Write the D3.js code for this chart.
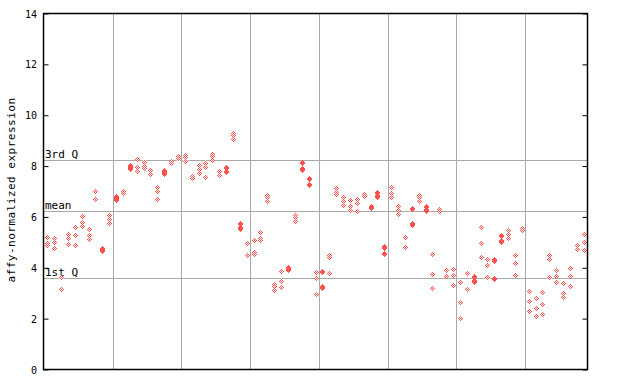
<!DOCTYPE html>
<html>
<head>
<meta charset="utf-8">
<script src="https://cdn.jsdelivr.net/npm/d3@7"></script>
<style>
  body { margin: 0; background: #fff; }
  text { font-family: "DejaVu Sans Mono", monospace; }
</style>
</head>
<body>
<svg id="chart"></svg>
<script>
(function(){
    "use strict";

    var width = 640,
        height = 384;

    // expression values per sample (replicates)
    var samples = [
        [5.19, 4.96, 4.88], [5.19, 4.96, 4.72], [3.61, 3.14], [5.27, 5.19, 4.88],
        [5.59, 5.27, 4.88], [5.98, 5.82, 5.64], [5.48, 5.27, 5.11], [7.02, 6.71, 6.65],
        [4.72, 4.66], [6.03, 5.90, 5.77],
        [6.77, 6.71, 6.65], [7.0, 6.93], [8.02, 7.91, 7.89], [8.27, 7.95, 7.78],
        [8.15, 8.02, 7.91], [7.82, 7.69], [7.12, 7.03, 6.66], [7.82, 7.74, 7.69],
        [8.17, 8.11, 8.08], [8.40, 8.28],
        [8.45, 8.35, 8.2], [7.62, 7.52], [8.03, 7.9, 7.72], [8.11, 7.94, 7.56],
        [8.42, 8.35, 8.21], [7.79, 7.65, 7.61], [7.94, 7.91, 7.77], [9.29, 9.19, 9.06],
        [5.74, 5.57, 5.54], [4.96, 4.52],
        [5.11, 4.63, 4.56], [5.35, 5.19, 5.06], [6.86, 6.73, 6.59], [3.38, 3.25, 3.12],
        [3.85, 3.50, 3.22], [3.99, 3.93, 3.90], [6.07, 5.97, 5.84], [8.14, 7.89, 7.86],
        [7.5, 7.27, 7.24], [3.85, 3.57, 2.96],
        [3.85, 3.25, 3.22], [4.52, 4.43, 3.81], [7.08, 6.99, 6.89], [6.79, 6.6, 6.44],
        [6.62, 6.40, 6.23], [6.66, 6.53, 6.23], [6.89, 6.77], [6.40, 6.37],
        [6.93, 6.82, 6.79], [4.82, 4.79, 4.56],
        [7.12, 6.95, 6.75], [6.43, 6.27, 6.10], [5.18, 4.81], [6.30, 5.73, 5.70],
        [6.83, 6.73, 6.62], [6.40, 6.27, 6.24], [4.56, 3.73, 3.18], [6.31, 6.23],
        [3.92, 3.68], [3.92, 3.73, 3.30],
        [3.42, 2.67, 2.04], [3.80, 3.75, 3.14], [3.64, 3.48, 3.45], [5.59, 4.96, 4.37],
        [4.30, 4.07, 3.61], [4.31, 4.28, 3.57], [5.24, 5.06, 5.03], [5.45, 5.32, 5.14],
        [4.48, 4.13, 3.73], [5.55, 5.48],
        [3.08, 2.71, 2.31], [2.79, 2.43, 2.08], [3.02, 2.59, 2.13], [4.46, 4.30, 3.59],
        [3.89, 3.67, 3.46], [3.42, 2.96, 2.85], [4.01, 3.69, 3.30], [4.88, 4.72],
        [5.27, 4.96, 4.68]
    ];
    // samples whose marks overlap into a solid red blob
    var solid = [8, 10, 12, 17, 26, 28, 35, 37, 38, 40, 47, 48, 49, 53, 55, 62, 65, 66];

    var groupSize = 10;
    var yTicks = [0, 2, 4, 6, 8, 10, 12, 14];
    var refLines = [
        {label: "3rd Q", value: 8.24},
        {label: "mean", value: 6.23},
        {label: "1st Q", value: 3.61}
    ];

    var svg = d3.select("svg#chart")
        .attr("width", width)
        .attr("height", height);

    // 1px checkerboard used by the light markers
    var pat = svg.append("defs").append("pattern")
        .attr("id", "chk")
        .attr("width", 2).attr("height", 2)
        .attr("patternUnits", "userSpaceOnUse");
    pat.append("rect").attr("width", 2).attr("height", 2).attr("fill", "#fff");
    pat.append("rect").attr("width", 1).attr("height", 1).attr("fill", "#ff5050");
    pat.append("rect").attr("x", 1).attr("y", 1).attr("width", 1).attr("height", 1).attr("fill", "#ff5050");

    var x = d3.scaleLinear()
        .domain([-0.55, samples.length - 0.45])
        .range([43.5, 587.5]);

    var y = d3.scaleLinear()
        .domain([0, 14])
        .range([369.5, 13.5]);

    var g = svg.append("g");

    // vertical separators between sample groups
    var bounds = d3.range(groupSize - 0.5, samples.length - 1, groupSize);
    g.selectAll("line.sep")
        .data(bounds)
        .enter().append("line")
        .attr("class", "sep")
        .attr("x1", function(d) { return Math.round(x(d)) + 0.5; })
        .attr("x2", function(d) { return Math.round(x(d)) + 0.5; })
        .attr("y1", y(14))
        .attr("y2", y(0))
        .attr("stroke", "#a8a8a8")
        .attr("stroke-width", 1);

    // quartile / mean lines
    g.selectAll("line.ref")
        .data(refLines)
        .enter().append("line")
        .attr("class", "ref")
        .attr("x1", x.range()[0])
        .attr("x2", x.range()[1])
        .attr("y1", function(d) { return Math.round(y(d.value)) + 0.5; })
        .attr("y2", function(d) { return Math.round(y(d.value)) + 0.5; })
        .attr("stroke", "#a8a8a8")
        .attr("stroke-width", 1);

    g.selectAll("text.ref")
        .data(refLines)
        .enter().append("text")
        .attr("class", "ref")
        .attr("x", 45)
        .attr("y", function(d) { return Math.round(y(d.value)) - 2; })
        .attr("font-size", 11)
        .attr("fill", "#000")
        .text(function(d) { return d.label; });

    // points
    var pts = [];
    samples.forEach(function(vals, i) {
        vals.forEach(function(v) {
            pts.push({i: i, v: v, solid: solid.indexOf(i) >= 0});
        });
    });

    var diamond = function(d) {
        var cx = Math.round(x(d.i)), cy = Math.round(y(d.v));
        return "M" + cx + "," + (cy - 3) + "L" + (cx + 3) + "," + cy +
            "L" + cx + "," + (cy + 3) + "L" + (cx - 3) + "," + cy + "Z";
    };

    g.selectAll("path.pt")
        .data(pts)
        .enter().append("path")
        .attr("class", "pt")
        .attr("d", diamond)
        .attr("fill", function(d) { return d.solid ? "#ff5050" : "url(#chk)"; })
        .attr("shape-rendering", "crispEdges");

    // frame
    g.append("rect")
        .attr("x", x.range()[0])
        .attr("y", y(14))
        .attr("width", x.range()[1] - x.range()[0])
        .attr("height", y(0) - y(14))
        .attr("fill", "none")
        .attr("stroke", "#000")
        .attr("stroke-width", 1.5);

    // left axis, ticks pointing inward
    var left = svg.append("g")
        .attr("transform", "translate(" + x.range()[0] + ",0)")
        .call(d3.axisRight(y).tickValues(yTicks).tickSize(5).tickFormat(""));
    left.select(".domain").remove();
    left.selectAll("line").attr("stroke", "#000");

    svg.append("g").selectAll("text")
        .data(yTicks)
        .enter().append("text")
        .attr("x", 37)
        .attr("y", function(d) { return y(d) + 4; })
        .attr("text-anchor", "end")
        .attr("font-size", 10)
        .text(function(d) { return d; });

    // right axis, ticks pointing inward
    var right = svg.append("g")
        .attr("transform", "translate(" + x.range()[1] + ",0)")
        .call(d3.axisLeft(y).tickValues(yTicks).tickSize(5).tickFormat(""));
    right.select(".domain").remove();
    right.selectAll("line").attr("stroke", "#000");

    svg.append("text")
        .attr("transform", "translate(15," + 190 + ") rotate(-90)")
        .attr("text-anchor", "middle")
        .attr("font-size", 11)
        .attr("letter-spacing", 0.5)
        .text("affy-normalized expression");
})();
</script>
</body>
</html>
